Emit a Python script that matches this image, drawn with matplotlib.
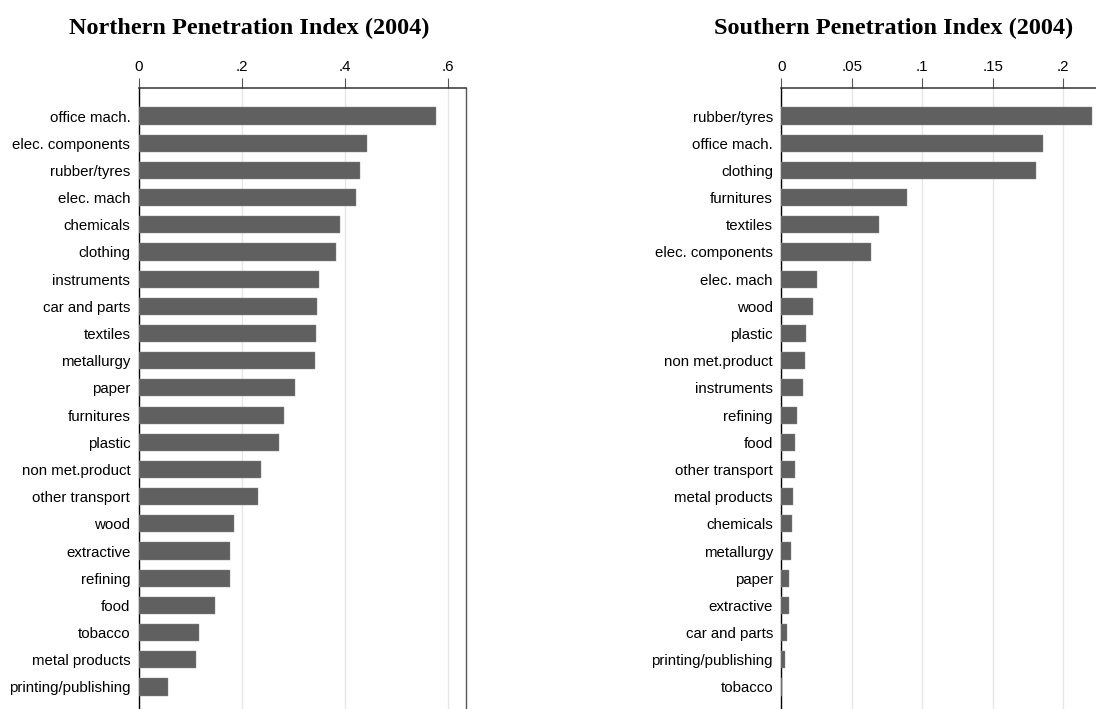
import matplotlib.pyplot as plt
import matplotlib.ticker as mticker

# Northern penetration index, 2004 (sorted as shown, top to bottom)
north_sectors = ['office mach.', 'elec. components', 'rubber/tyres', 'elec. mach',
                 'chemicals', 'clothing', 'instruments', 'car and parts', 'textiles',
                 'metallurgy', 'paper', 'furnitures', 'plastic', 'non met.product',
                 'other transport', 'wood', 'extractive', 'refining', 'food',
                 'tobacco', 'metal products', 'printing/publishing']
north_values = [0.577, 0.443, 0.429, 0.421, 0.391, 0.384, 0.351, 0.347, 0.344,
                0.342, 0.304, 0.282, 0.272, 0.238, 0.232, 0.186, 0.178, 0.177,
                0.148, 0.117, 0.112, 0.057]
north_ticks = [0, 0.2, 0.4, 0.6]
north_ticklabels = ['0', '.2', '.4', '.6']

# Southern penetration index, 2004
south_sectors = ['rubber/tyres', 'office mach.', 'clothing', 'furnitures', 'textiles',
                 'elec. components', 'elec. mach', 'wood', 'plastic', 'non met.product',
                 'instruments', 'refining', 'food', 'other transport', 'metal products',
                 'chemicals', 'metallurgy', 'paper', 'extractive', 'car and parts',
                 'printing/publishing', 'tobacco']
south_values = [0.220, 0.1858, 0.1809, 0.0891, 0.0696, 0.0636, 0.0251, 0.0227,
                0.0173, 0.0168, 0.0154, 0.0109, 0.0097, 0.0097, 0.0081, 0.0078,
                0.0067, 0.0055, 0.0053, 0.0039, 0.0025, 0.0007]
south_ticks = [0, 0.05, 0.1, 0.15, 0.2]
south_ticklabels = ['0', '.05', '.1', '.15', '.2']

plt.rcParams['font.family'] = ['Liberation Sans', 'DejaVu Sans']

W, H = 1096, 709
fig = plt.figure(figsize=(W / 100, H / 100), dpi=100)

BAR_COLOR = '#606060'
GRID_COLOR = '#e6e6e6'


def panel(rect_px, sectors, values, xmax, ticks, ticklabels, title, title_x):
    left, right, top, bottom = rect_px
    ax = fig.add_axes([left / W, 1 - bottom / H, (right - left) / W, (bottom - top) / H])
    n = len(sectors)
    ypos = list(range(n))
    ax.barh(ypos, values, height=0.63, color=BAR_COLOR, edgecolor='#8a8a8a',
            linewidth=0.3, zorder=3)
    ax.set_xlim(0, xmax)
    # top spine sits about one row above the first bar
    ax.set_ylim(n - 1 + 0.92, -1.03)
    ax.set_yticks(ypos)
    ax.set_yticklabels(sectors, fontsize=10.8)
    ax.tick_params(axis='y', length=0, pad=6)
    ax.xaxis.tick_top()
    ax.set_xticks(ticks)
    ax.set_xticklabels(ticklabels, fontsize=10.8)
    ax.tick_params(axis='x', length=7, width=0.8, color='#555555', pad=3)
    ax.xaxis.set_minor_locator(mticker.NullLocator())
    ax.grid(True, axis='x', color=GRID_COLOR, linewidth=1.0, zorder=0)
    ax.set_axisbelow(True)
    ax.spines['left'].set_color('black')
    ax.spines['left'].set_linewidth(1.0)
    ax.spines['top'].set_color('#333333')
    ax.spines['top'].set_linewidth(1.1)
    ax.spines['right'].set_color('#555555')
    ax.spines['right'].set_linewidth(1.0)
    ax.spines['bottom'].set_visible(False)
    fig.text(title_x / W, 1 - 28 / H, title, ha='center', va='center',
             fontsize=17.5, fontweight='bold', family='Liberation Serif')
    return ax


panel((138.7, 466, 88, 712), north_sectors, north_values,
      (466 - 138.7) / 515, north_ticks, north_ticklabels,
      'Northern Penetration Index (2004)', 249)
panel((781.3, 1099, 88, 712), south_sectors, south_values,
      (1099 - 781.3) / 1410, south_ticks, south_ticklabels,
      'Southern Penetration Index (2004)', 894)

fig.savefig('out.png', dpi=100)
